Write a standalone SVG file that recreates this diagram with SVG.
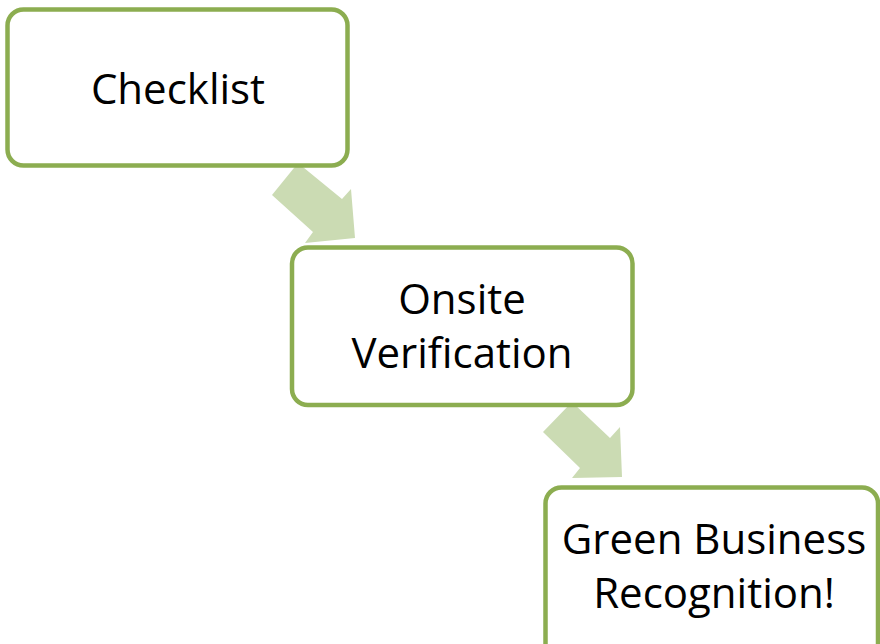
<svg xmlns="http://www.w3.org/2000/svg" width="880" height="644" viewBox="0 0 880 644">
<style>
.box{fill:#ffffff;stroke:#8cad50;stroke-width:4.5}
.arrow{fill:#cbdbb3;stroke:none}
.t{font-family:"Open Sans","Liberation Sans",sans-serif;font-size:42px;fill:#000000;text-anchor:middle}
</style>
<rect width="880" height="644" fill="#ffffff"/>
<g id="connectors">
<polygon class="arrow" points="298,163 342,199 351,189 355,238 305,243 313,232 272,195"/>
<polygon class="arrow" points="572,402 610,438 620,427 622,477 572,478 580,468 543,432"/>
</g>
<g id="node-checklist">
<rect class="box" x="7.5" y="9.5" width="340" height="156" rx="16"/>
<text class="t" x="178" y="104">Checklist</text>
</g>
<g id="node-onsite">
<rect class="box" x="292" y="247.5" width="340.5" height="157.5" rx="16"/>
<text class="t" x="462" y="314">Onsite</text>
<text class="t" x="462" y="368">Verification</text>
</g>
<g id="node-green">
<rect class="box" x="545.5" y="487.5" width="332.5" height="180" rx="16"/>
<text class="t" x="714" y="554">Green Business</text>
<text class="t" x="714" y="608">Recognition!</text>
</g>
</svg>
